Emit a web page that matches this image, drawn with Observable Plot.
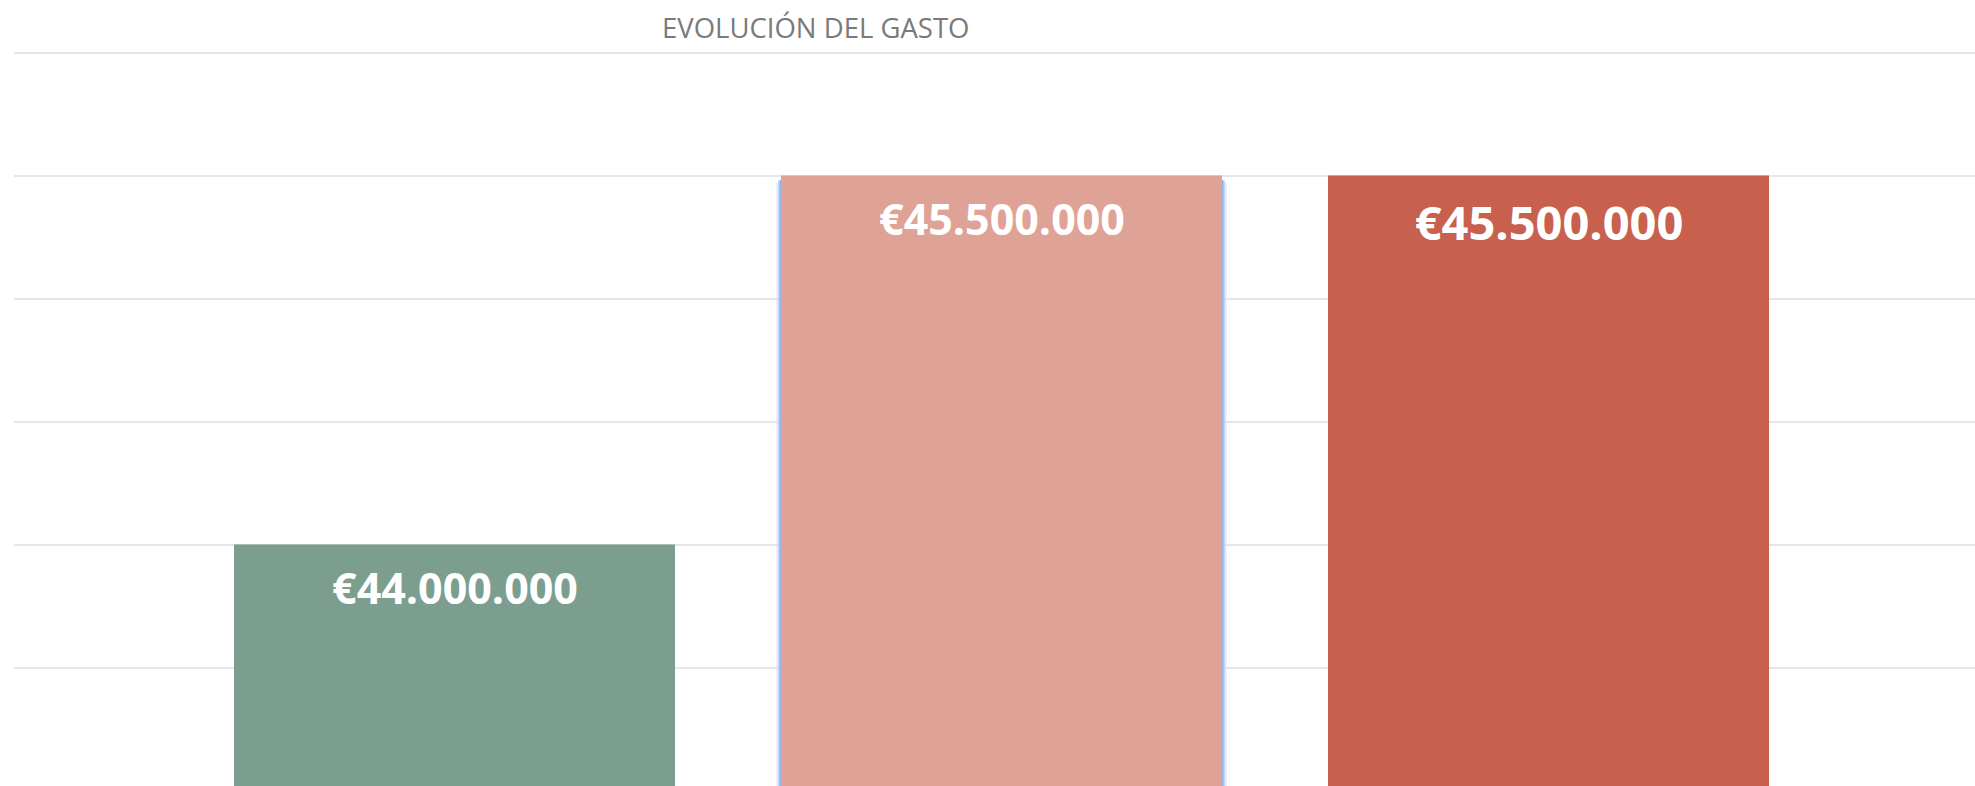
<!DOCTYPE html>
<html>
<head>
<meta charset="utf-8">
<script src="https://cdn.jsdelivr.net/npm/d3@7"></script>
<script src="https://cdn.jsdelivr.net/npm/@observablehq/plot@0.6"></script>
<style>
  html, body { margin: 0; padding: 0; background: #fff; }
  #wrap { position: relative; width: 1975px; height: 786px; overflow: hidden; }
  #title { position: absolute; left: 662px; top: 11px; font-family: "Open Sans", sans-serif; font-size: 27.5px; color: #7a7a7a; white-space: nowrap; line-height: 1.2; }
  #chart { position: absolute; left: 0; top: 0; }
</style>
</head>
<body>
<div id="wrap">
  <div id="chart"></div>
  <div id="title">EVOLUCIÓN DEL GASTO</div>
</div>
<script>
const categories = ["A", "B", "C"];
const values = [44000000, 45500000, 45500000];
const labels = ["€44.000.000", "€45.500.000", "€45.500.000"];
const colors = ["#7c9e8f", "#dfa296", "#c8604e"];
const gridTicks = [43500000, 44000000, 44500000, 45000000, 45500000, 46000000];

const data = categories.map((c, i) => ({cat: c, value: values[i], label: labels[i], color: colors[i]}));
const highlighted = data.filter((d, i) => i === 1);
const normalLabels = data.filter((d, i) => i !== 2);
const bigLabels = data.filter((d, i) => i === 2);

const chart = Plot.plot({
  width: 1975,
  height: 786,
  marginLeft: 14,
  marginRight: 0,
  marginTop: 0,
  marginBottom: 0,
  x: {domain: categories, range: [234, 1769], paddingInner: 0.194, paddingOuter: 0, axis: null},
  y: {domain: [43018000, 46000000], range: [786, 52.5], axis: null},
  marks: [
    Plot.ruleY(gridTicks, {stroke: "#e2e6ee", strokeWidth: 2}),
    Plot.barY(highlighted, {x: "cat", y: "value", fill: "none", stroke: "#d3e0f5", strokeWidth: 10, strokeOpacity: 0.5, insetTop: 12, clip: true}),
    Plot.barY(highlighted, {x: "cat", y: "value", fill: "none", stroke: "#b3caef", strokeWidth: 6, strokeOpacity: 0.7, insetTop: 8, clip: true}),
    Plot.barY(highlighted, {x: "cat", y: "value", fill: "none", stroke: "#93b3e6", strokeWidth: 3, insetTop: 6, clip: true}),
    Plot.barY(data, {x: "cat", y: "value", fill: "color", clip: true}),
    Plot.text(normalLabels, {
      x: "cat", y: "value", text: "label",
      fill: "white", fontWeight: "bold",
      fontFamily: "Open Sans, sans-serif",
      fontSize: 43,
      lineAnchor: "bottom",
      dy: 59,
      textAnchor: "middle"
    }),
    Plot.text(bigLabels, {
      x: "cat", y: "value", text: "label",
      fill: "white", fontWeight: "bold",
      fontFamily: "Open Sans, sans-serif",
      fontSize: 47,
      lineAnchor: "bottom",
      dy: 64,
      textAnchor: "middle"
    })
  ]
});
document.getElementById("chart").appendChild(chart);
</script>
</body>
</html>
